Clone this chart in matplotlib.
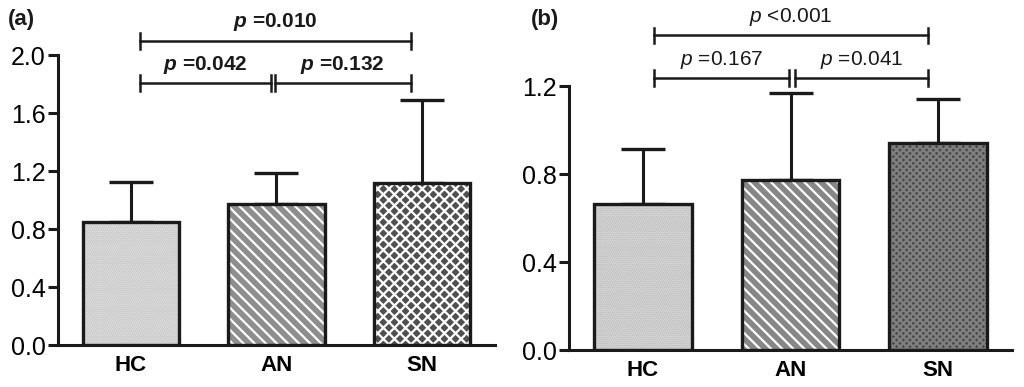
import matplotlib
matplotlib.use("Agg")
import matplotlib.pyplot as plt

plt.rcParams["font.family"] = ["Liberation Sans", "DejaVu Sans"]
plt.rcParams["mathtext.fontset"] = "custom"
plt.rcParams["mathtext.it"] = "Liberation Sans:italic"
plt.rcParams["mathtext.bfit"] = "Liberation Sans:italic:bold"
plt.rcParams["hatch.linewidth"] = 1.6

groups = ["HC", "AN", "SN"]

# panel (a)
a_means = [0.85, 0.97, 1.12]
a_upper = [0.275, 0.22, 0.57]
a_pvals = ["=0.042", "=0.132", "=0.010"]

# panel (b)
b_means = [0.665, 0.775, 0.94]
b_upper = [0.25, 0.395, 0.20]
b_pvals = ["=0.167", "=0.041", "<0.001"]

a_faces = ["#e0e0e0", "#8e8e8e", "#505050"]
a_hatches = ["........", "\\\\\\", "xxx"]
a_hatch_cols = ["#cdcdcd", "white", "white"]
b_faces = ["#bdbdbd", "#878787", "#4a4a4a"]
b_hatches = ["........", "\\\\\\", "xxxxx"]
b_hatch_cols = ["#d2d2d2", "white", "#808080"]

fig = plt.figure(figsize=(10.24, 3.87), dpi=100)
ax_a = fig.add_axes([0.0566, 0.1085, 0.4268, 0.749])
ax_b = fig.add_axes([0.5557, 0.0956, 0.4326, 0.682])


def draw_panel(ax, means, upper, faces, hatches, hatch_cols, ymax, step):
    x = range(len(groups))
    width = 0.66
    # fill with hatch first, then an unfilled black outline on top
    for xi, m, fc, h, hc in zip(x, means, faces, hatches, hatch_cols):
        ax.bar(xi, m, width=width, color=fc, edgecolor=hc, hatch=h, linewidth=0, zorder=2)
    ax.bar(x, means, width=width, fill=False, edgecolor="#1a1a1a", linewidth=2.4, zorder=3)
    ax.errorbar(x, means, yerr=[[0] * 3, upper], fmt="none", ecolor="#1a1a1a",
                elinewidth=2.2, capsize=16, capthick=2.4, zorder=1)
    ax.set_xlim(-0.5, 2.5)
    ax.set_ylim(0, ymax)
    ticks = [round(i * step, 1) for i in range(int(round(ymax / step)) + 1)]
    ax.set_yticks(ticks)
    ax.set_yticklabels([f"{t:.1f}" for t in ticks], fontsize=18)
    ax.set_xticks(list(x))
    ax.set_xticklabels(groups, fontsize=16, fontweight="bold")
    for s in ("top", "right"):
        ax.spines[s].set_visible(False)
    for s in ("left", "bottom"):
        ax.spines[s].set_linewidth(2.2)
        ax.spines[s].set_color("#1a1a1a")
    ax.tick_params(axis="y", length=7, width=2.2, color="#1a1a1a", pad=2)
    ax.tick_params(axis="x", length=0, pad=7)


def bracket(ax, x0, x1, y, th, text, bold):
    ax.plot([x0, x1], [y, y], color="#1a1a1a", lw=1.8, clip_on=False)
    for xe in (x0, x1):
        ax.plot([xe, xe], [y - th, y + th], color="#1a1a1a", lw=1.8, clip_on=False)
    p = r"$\mathbfit{p}$ " if bold else r"$\it{p}$ "
    ax.text((x0 + x1) / 2, y + th * 0.9, p + text, ha="center", va="bottom",
            fontsize=15, fontweight="bold" if bold else "normal", color="#1a1a1a",
            clip_on=False)


draw_panel(ax_a, a_means, a_upper, a_faces, a_hatches, a_hatch_cols, 2.0, 0.4)
bracket(ax_a, 0.06, 0.96, 1.81, 0.055, a_pvals[0], True)
bracket(ax_a, 0.99, 1.92, 1.81, 0.055, a_pvals[1], True)
bracket(ax_a, 0.06, 1.92, 2.10, 0.055, a_pvals[2], True)

draw_panel(ax_b, b_means, b_upper, b_faces, b_hatches, b_hatch_cols, 1.2, 0.4)
bracket(ax_b, 0.075, 0.99, 1.236, 0.036, b_pvals[0], False)
bracket(ax_b, 1.03, 1.93, 1.236, 0.036, b_pvals[1], False)
bracket(ax_b, 0.075, 1.93, 1.43, 0.036, b_pvals[2], False)

fig.text(0.008, 0.935, "(a)", fontsize=16, fontweight="bold", color="#1a1a1a")
fig.text(0.518, 0.935, "(b)", fontsize=16, fontweight="bold", color="#1a1a1a")

fig.savefig("out.png", dpi=100)
